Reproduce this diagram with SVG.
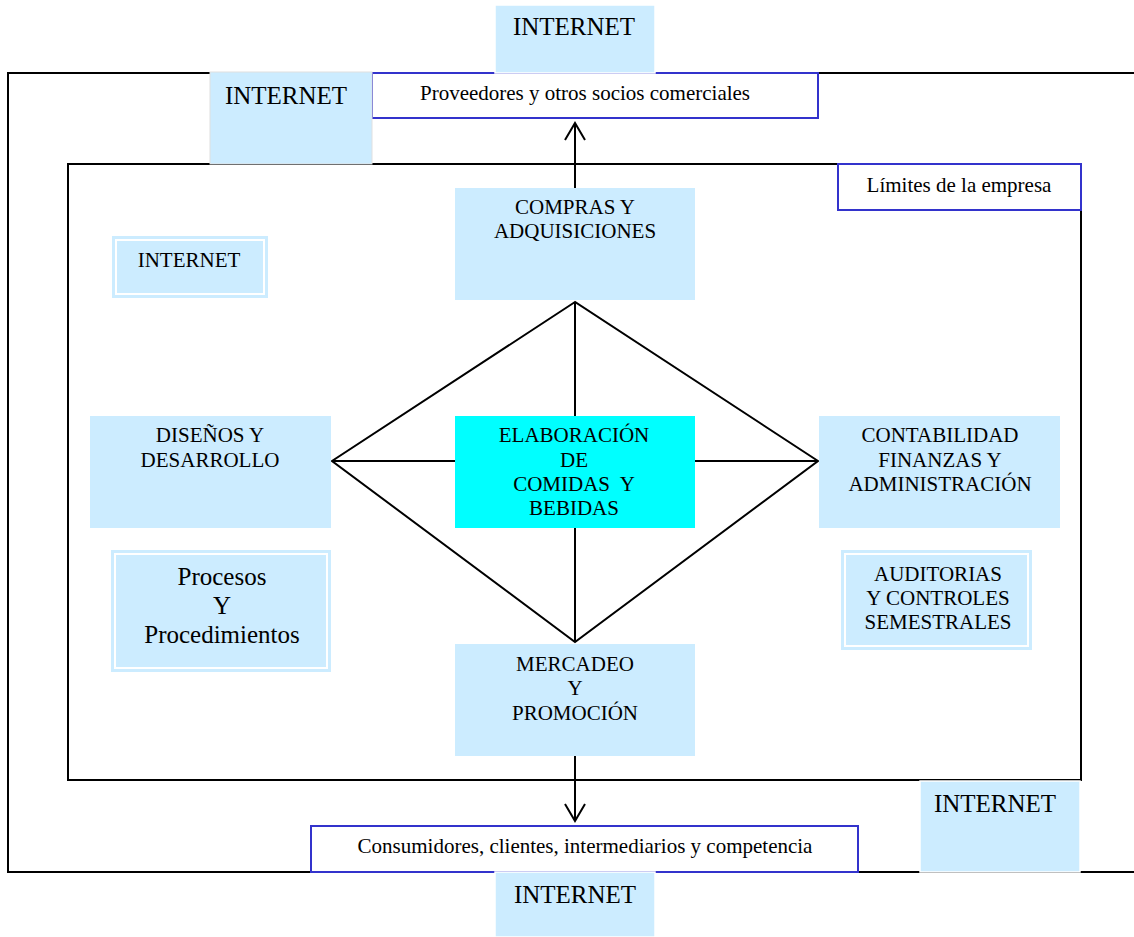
<svg xmlns="http://www.w3.org/2000/svg" width="1134" height="937" viewBox="0 0 1134 937">
<defs>
<style>
.t{font-family:"Liberation Serif","Times New Roman",serif;fill:#000;text-anchor:middle;font-size:21px}
.big{font-size:25px}
.lb{fill:#CCECFF}
.frame{fill:none;stroke:#000;stroke-width:2}
.bl{fill:#fff;stroke:#3333CC;stroke-width:2}
.ln{stroke:#000;stroke-width:2;fill:none}
.dbl{fill:none;stroke:#fff;stroke-width:2}
</style>
</defs>
<rect width="1134" height="937" fill="#fff"/>
<g id="frames">
<path class="frame" d="M1134,73 H8 V872 H1134"/>
<rect class="frame" x="68" y="164" width="1013" height="616"/>
</g>
<g id="connectors">
<polygon class="ln" points="575,302 332,461 575,642 818,461"/>
<line class="ln" x1="575" y1="302" x2="575" y2="416"/>
<line class="ln" x1="575" y1="528" x2="575" y2="642"/>
<line class="ln" x1="332" y1="461" x2="455" y2="461"/>
<line class="ln" x1="695" y1="461" x2="818" y2="461"/>
<line class="ln" x1="575" y1="188" x2="575" y2="123"/>
<path class="ln" d="M565,140 L575,123 L585,140"/>
<line class="ln" x1="575" y1="756" x2="575" y2="821"/>
<path class="ln" d="M565,804 L575,821 L585,804"/>
</g>
<g id="proveedores">
<rect class="bl" x="372" y="73" width="446" height="45"/>
<text class="t" x="585" y="100">Proveedores y otros socios comerciales</text>
</g>
<g id="internet-top">
<rect class="lb" x="495" y="5" width="160" height="68" stroke="#fff" stroke-width="1.5"/>
<text class="t big" x="574" y="35">INTERNET</text>
</g>
<g id="internet-topleft">
<rect class="lb" x="210" y="72" width="162" height="92" stroke="#e0e0e0" stroke-width="1"/>
<text class="t big" x="286" y="104">INTERNET</text>
</g>
<g id="limites">
<rect class="bl" x="838" y="164" width="243" height="46"/>
<text class="t" x="959" y="192">Límites de la empresa</text>
</g>
<g id="internet-inner">
<rect class="lb" x="112" y="236" width="156" height="62"/>
<rect class="dbl" x="116" y="240" width="148" height="54"/>
<text class="t" x="189" y="267">INTERNET</text>
</g>
<g id="compras">
<rect class="lb" x="455" y="188" width="240" height="112"/>
<text class="t" x="575" y="214">COMPRAS Y</text>
<text class="t" x="575" y="238">ADQUISICIONES</text>
</g>
<g id="disenos">
<rect class="lb" x="90" y="416" width="241" height="112"/>
<text class="t" x="210" y="442">DISEÑOS Y</text>
<text class="t" x="210" y="467">DESARROLLO</text>
</g>
<g id="elaboracion">
<rect x="455" y="416" width="240" height="112" fill="#00FFFF"/>
<text class="t" x="574" y="442">ELABORACIÓN</text>
<text class="t" x="574" y="467">DE</text>
<text class="t" x="574" y="491" xml:space="preserve">COMIDAS  Y</text>
<text class="t" x="574" y="515">BEBIDAS</text>
</g>
<g id="contabilidad">
<rect class="lb" x="819" y="416" width="241" height="112"/>
<text class="t" x="940" y="442">CONTABILIDAD</text>
<text class="t" x="940" y="467">FINANZAS Y</text>
<text class="t" x="940" y="491">ADMINISTRACIÓN</text>
</g>
<g id="procesos">
<rect class="lb" x="111" y="550" width="220" height="122"/>
<rect class="dbl" x="115" y="554" width="212" height="114"/>
<text class="t big" x="222" y="585">Procesos</text>
<text class="t big" x="222" y="614">Y</text>
<text class="t big" x="222" y="643">Procedimientos</text>
</g>
<g id="auditorias">
<rect class="lb" x="841" y="550" width="191" height="100"/>
<rect class="dbl" x="845" y="554" width="183" height="92"/>
<text class="t" x="938" y="581">AUDITORIAS</text>
<text class="t" x="938" y="605">Y CONTROLES</text>
<text class="t" x="938" y="629">SEMESTRALES</text>
</g>
<g id="mercadeo">
<rect class="lb" x="455" y="644" width="240" height="112"/>
<text class="t" x="575" y="671">MERCADEO</text>
<text class="t" x="575" y="695">Y</text>
<text class="t" x="575" y="720">PROMOCIÓN</text>
</g>
<g id="internet-right">
<rect class="lb" x="920" y="781" width="160" height="91" stroke="#fff" stroke-width="1.5"/>
<text class="t big" x="995" y="812">INTERNET</text>
</g>
<g id="consumidores">
<rect class="bl" x="311" y="826" width="547" height="46"/>
<text class="t" x="585" y="853">Consumidores, clientes, intermediarios y competencia</text>
</g>
<g id="internet-bottom">
<rect class="lb" x="495" y="872" width="160" height="65" stroke="#fff" stroke-width="1.5"/>
<text class="t big" x="575" y="903">INTERNET</text>
</g>
</svg>
